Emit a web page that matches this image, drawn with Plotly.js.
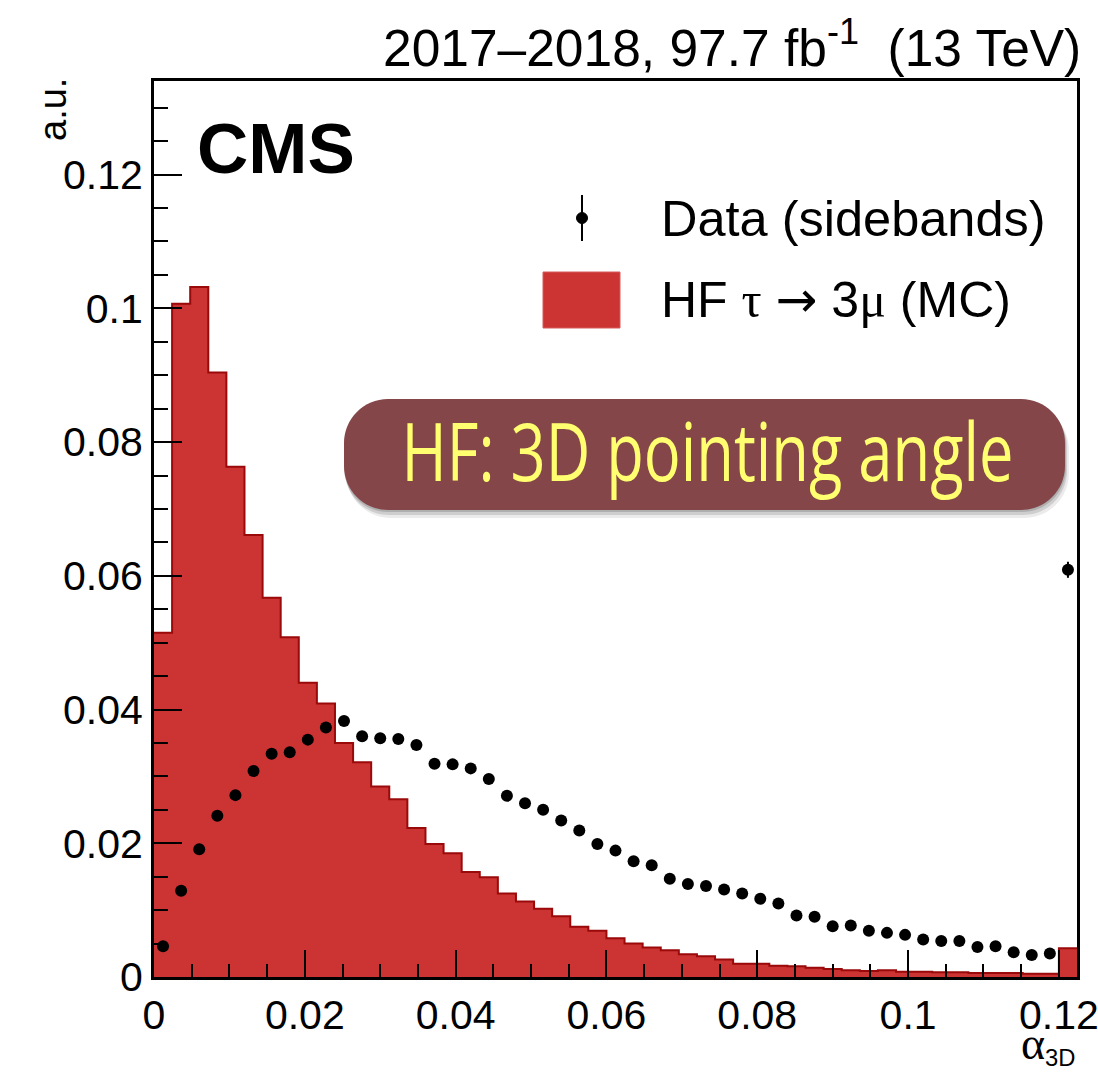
<!DOCTYPE html>
<html><head><meta charset="utf-8">
<script src="https://cdn.plot.ly/plotly-3.0.1.min.js"></script>
<style>html,body{margin:0;padding:0;background:#fff}</style>
</head><body>
<div id="chart" style="width:1098px;height:1076px"></div>
<script>
// ---- data ----
const binLow = 0.0;
const binWidth = 0.0024;
const mcValues = [0.0515, 0.1007, 0.1032, 0.0904, 0.0763, 0.0661, 0.0567, 0.0508, 0.0440, 0.0409,
                  0.0350, 0.0321, 0.0285, 0.0266, 0.0223, 0.0199, 0.0185, 0.0157, 0.0149, 0.0125,
                  0.0113, 0.0102, 0.0091, 0.0075, 0.0069, 0.0058, 0.0050, 0.0044, 0.0040, 0.0034,
                  0.0031, 0.0026, 0.0020, 0.0020, 0.0017, 0.0016, 0.0014, 0.0012, 0.0010, 0.0009,
                  0.0010, 0.0008, 0.0008, 0.0007, 0.0007, 0.0006, 0.0006, 0.0006, 0.0005, 0.0005,
                  0.0043];
const dataValues = [0.0046, 0.0129, 0.0191, 0.0241, 0.0272, 0.0308, 0.0334, 0.0336, 0.0355, 0.0373,
                    0.0383, 0.0360, 0.0357, 0.0356, 0.0347, 0.0319, 0.0318, 0.0312, 0.0296, 0.0271,
                    0.0260, 0.0250, 0.0234, 0.0219, 0.0199, 0.0189, 0.0173, 0.0167, 0.0147, 0.0139,
                    0.0136, 0.0131, 0.0125, 0.0117, 0.0110, 0.0092, 0.0090, 0.0076, 0.0077, 0.0069,
                    0.0066, 0.0063, 0.0056, 0.0054, 0.0054, 0.0045, 0.0046, 0.0037, 0.0033, 0.0035,
                    0.0609];
const dataErrors = [0.0003, 0.0004, 0.0004, 0.0004, 0.0004, 0.0004, 0.0004, 0.0004, 0.0004, 0.0004,
                    0.0004, 0.0004, 0.0004, 0.0004, 0.0004, 0.0004, 0.0004, 0.0004, 0.0004, 0.0004,
                    0.0004, 0.0004, 0.0004, 0.0004, 0.0004, 0.0004, 0.0004, 0.0004, 0.0004, 0.0004,
                    0.0004, 0.0004, 0.0004, 0.0003, 0.0003, 0.0003, 0.0003, 0.0003, 0.0003, 0.0003,
                    0.0003, 0.0003, 0.0003, 0.0003, 0.0003, 0.0003, 0.0003, 0.0003, 0.0003, 0.0003,
                    0.0012];
const xTickVals = [0, 0.02, 0.04, 0.06, 0.08, 0.1, 0.12];
const xTickText = ["0", "0.02", "0.04", "0.06", "0.08", "0.1", "0.12"];
const yTickVals = [0, 0.02, 0.04, 0.06, 0.08, 0.1, 0.12];
const yTickText = ["0", "0.02", "0.04", "0.06", "0.08", "0.1", "0.12"];
const legendLabels = ["Data (sidebands)", "HF \u03C4 \u2192 3\u03BC (MC)"];
const boxLabel = "HF: 3D pointing angle";

// ---- derived ----
const edges = mcValues.map((_, i) => binLow + i * binWidth);
edges.push(binLow + mcValues.length * binWidth);
const mcStepY = mcValues.concat([mcValues[mcValues.length - 1]]);
const centers = dataValues.map((_, i) => binLow + (i + 0.5) * binWidth);

const SANS = "Liberation Sans, Arial, Helvetica, sans-serif";
const ML = 154, MR = 21, MT = 81, MB = 99, WW = 1098, HH = 1076;
const PW = WW - ML - MR, PH = HH - MT - MB;
const px = x => (x - ML) / PW;
const py = y => (HH - MB - y) / PH;
const P = (x, y) => px(x).toFixed(5) + ',' + py(y).toFixed(5);

function roundRect(x0, y0, x1, y1, r) {
  const k = 0.5523 * r;
  return 'M' + P(x0 + r, y0) + ' L' + P(x1 - r, y0) +
    ' C' + P(x1 - r + k, y0) + ' ' + P(x1, y0 + r - k) + ' ' + P(x1, y0 + r) +
    ' L' + P(x1, y1 - r) +
    ' C' + P(x1, y1 - r + k) + ' ' + P(x1 - r + k, y1) + ' ' + P(x1 - r, y1) +
    ' L' + P(x0 + r, y1) +
    ' C' + P(x0 + r - k, y1) + ' ' + P(x0, y1 - r + k) + ' ' + P(x0, y1 - r) +
    ' L' + P(x0, y0 + r) +
    ' C' + P(x0, y0 + r - k) + ' ' + P(x0 + r - k, y0) + ' ' + P(x0 + r, y0) + ' Z';
}

const traces = [
  {
    type: 'scatter', x: edges, y: mcStepY, mode: 'lines',
    line: {shape: 'hv', color: '#9A0A0A', width: 2},
    fill: 'tozeroy', fillcolor: '#CC3333',
    name: legendLabels[1], showlegend: false, hoverinfo: 'skip'
  },
  {
    type: 'scatter', x: centers, y: dataValues, mode: 'markers',
    marker: {color: '#000', size: 12},
    error_y: {type: 'data', array: dataErrors, visible: true, color: '#000', thickness: 2, width: 0},
    name: legendLabels[0], showlegend: false, cliponaxis: false
  }
];

const shapes = [
  // soft shadow of label box
  {type: 'path', xref: 'paper', yref: 'paper', layer: 'above', path: roundRect(346, 405, 1069, 518, 45),
   fillcolor: 'rgba(0,0,0,0.08)', line: {width: 0}},
  {type: 'path', xref: 'paper', yref: 'paper', layer: 'above', path: roundRect(345, 403, 1067, 515, 44),
   fillcolor: 'rgba(0,0,0,0.12)', line: {width: 0}},
  {type: 'path', xref: 'paper', yref: 'paper', layer: 'above', path: roundRect(344, 401, 1066, 512, 44),
   fillcolor: 'rgba(0,0,0,0.15)', line: {width: 0}},
  {type: 'path', xref: 'paper', yref: 'paper', layer: 'above', path: roundRect(344, 399, 1065, 510, 44),
   fillcolor: '#854649', line: {width: 0}},
  // legend: data marker with error bar
  {type: 'line', xref: 'paper', yref: 'paper', x0: px(582), x1: px(582), y0: py(195), y1: py(241),
   line: {color: '#000', width: 2}},
  {type: 'circle', xref: 'paper', yref: 'paper', x0: px(576.5), x1: px(587.5), y0: py(212.5), y1: py(223.5),
   fillcolor: '#000', line: {color: '#000', width: 1}},
  // legend: MC box
  {type: 'rect', xref: 'paper', yref: 'paper', x0: px(543), x1: px(620), y0: py(272), y1: py(328),
   fillcolor: '#CC3333', line: {color: '#D65C5C', width: 1}}
];

const annotations = [
  {xref: 'paper', yref: 'paper', x: px(1083), y: py(44), xanchor: 'right', yanchor: 'middle', showarrow: false,
   text: '2017\u20132018, 97.7 fb<sup>-1</sup>\u00A0\u00A0(13 TeV)', font: {family: SANS, size: 51.5, color: '#000'}},
  {xref: 'paper', yref: 'paper', x: px(195), y: py(149), xanchor: 'left', yanchor: 'middle', showarrow: false,
   text: '<b>CMS</b>', font: {family: SANS, size: 71, color: '#000'}},
  {xref: 'paper', yref: 'paper', x: px(659), y: py(218), xanchor: 'left', yanchor: 'middle', showarrow: false,
   text: legendLabels[0], font: {family: SANS, size: 50.5, color: '#000'}},
  {xref: 'paper', yref: 'paper', x: px(659), y: py(300), xanchor: 'left', yanchor: 'middle', showarrow: false,
   text: 'HF <span style="font-family:Liberation Serif">\u03C4</span> <span style="font-family:DejaVu Sans">\u2192</span> 3<span style="font-family:Liberation Serif">\u03BC</span> (MC)',
   font: {family: SANS, size: 50, color: '#000'}},
  {xref: 'paper', yref: 'paper', x: px(707), y: py(450), xanchor: 'center', yanchor: 'middle', showarrow: false,
   text: boxLabel, font: {family: 'Open Sans, Lato, sans-serif', size: 80, color: '#FFFF70'}},
  {xref: 'paper', yref: 'paper', x: px(53), y: py(110), xanchor: 'center', yanchor: 'middle', showarrow: false,
   textangle: -90, text: 'a.u.', font: {family: SANS, size: 38, color: '#000'}},
  {xref: 'paper', yref: 'paper', x: px(1078), y: py(1073), xanchor: 'right', yanchor: 'bottom', showarrow: false,
   text: '<span style="font-family:Liberation Serif;font-size:46px">\u03B1</span><sub>3D</sub>',
   font: {family: SANS, size: 34, color: '#000'}}
];

const axisCommon = {
  showgrid: false, zeroline: false, showline: true, linecolor: '#000', linewidth: 3, mirror: true,
  ticks: 'inside', tickcolor: '#000', tickwidth: 2, ticklabeloverflow: 'allow',
  tickfont: {family: SANS, size: 41, color: '#000'}
};

const layout = {
  width: WW, height: HH,
  margin: {l: ML, r: MR, t: MT, b: MB, pad: 0},
  paper_bgcolor: '#fff', plot_bgcolor: '#fff',
  showlegend: false,
  xaxis: Object.assign({}, axisCommon, {
    range: [0, binLow + mcValues.length * binWidth], tickmode: 'array', tickvals: xTickVals, ticktext: xTickText,
    ticklen: 27, minor: {dtick: 0.005, tick0: 0, ticks: 'inside', ticklen: 13, tickwidth: 2, tickcolor: '#000'}
  }),
  yaxis: Object.assign({}, axisCommon, {
    range: [0, 0.134], tickmode: 'array', tickvals: yTickVals, ticktext: yTickText,
    ticklen: 28, minor: {dtick: 0.005, tick0: 0, ticks: 'inside', ticklen: 14, tickwidth: 2, tickcolor: '#000'}
  }),
  shapes: shapes,
  annotations: annotations
};

Plotly.newPlot('chart', traces, layout, {displayModeBar: false, staticPlot: true}).then(() => {
  // condensed lettering for the label box
  document.querySelectorAll('#chart .annotation-text').forEach(t => {
    if (t.textContent === boxLabel) {
      t.setAttribute('textLength', '612');
      t.setAttribute('lengthAdjust', 'spacingAndGlyphs');
    }
  });
});
</script>
</body></html>
